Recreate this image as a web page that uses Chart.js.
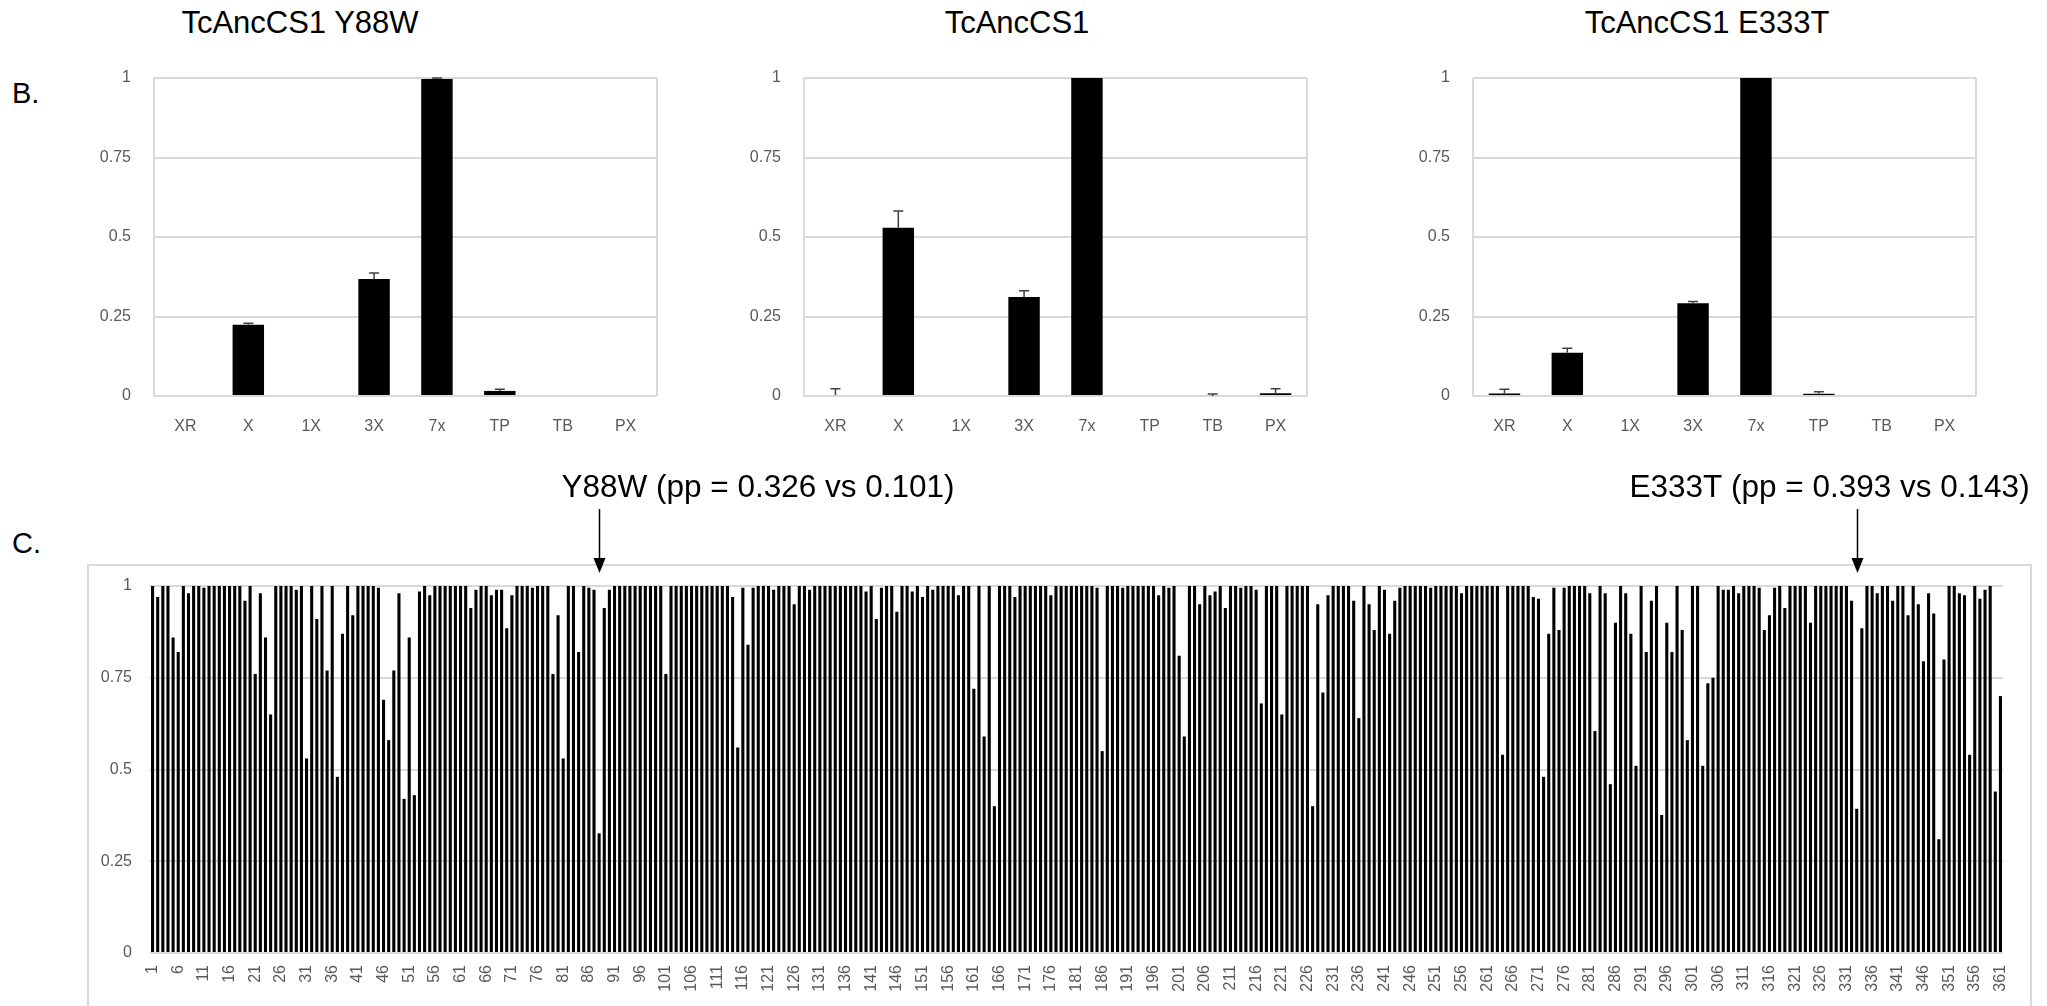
<!DOCTYPE html>
<html>
<head>
<meta charset="utf-8">
<script src="https://cdn.jsdelivr.net/npm/chart.js@4.4.1/dist/chart.umd.min.js"></script>
<style>
  body { margin: 0; width: 2047px; height: 1006px; overflow: hidden; position: relative; background: #fff;
         font-family: "Liberation Sans", Arial, sans-serif; }
  .txt { position: absolute; font-size: 31px; line-height: 31px; color: #000; white-space: nowrap; }
  .title { width: 600px; text-align: center; }
  .box { position: absolute; }
  #frame { position: absolute; left: 87px; top: 564px; width: 1941px; height: 460px; border: 2px solid #d9d9d9; }
</style>
</head>
<body>
<div class="txt title" style="left:0px; top:7px;">TcAncCS1 Y88W</div>
<div class="txt title" style="left:717px; top:7px;">TcAncCS1</div>
<div class="txt title" style="left:1407px; top:7px;">TcAncCS1 E333T</div>
<div class="txt" style="left:12px; top:78px; font-size:29px;">B.</div>
<div class="txt" style="left:12px; top:528px; font-size:29px;">C.</div>

<div class="box" style="left:60px; top:45px;"><canvas id="chartY88W" width="620" height="405"></canvas></div>
<div class="box" style="left:710px; top:45px;"><canvas id="chartAnc" width="620" height="405"></canvas></div>
<div class="box" style="left:1379px; top:45px;"><canvas id="chartE333T" width="620" height="405"></canvas></div>

<div id="frame"></div>
<div class="box" style="left:0px; top:470px;"><canvas id="ppChart" width="2047" height="536"></canvas></div>

<script>
// panel B: normalised activity per substrate
const compounds = ['XR', 'X', '1X', '3X', '7x', 'TP', 'TB', 'PX'];
const y88wValues = [0, 0.224, 0, 0.368, 0.997, 0.016, 0, 0];
const y88wErrors = [0, 0.005, 0, 0.019, 0.003, 0.005, 0, 0];
const ancValues = [0.003, 0.529, 0, 0.311, 1, 0, 0, 0.009];
const ancErrors = [0.02, 0.053, 0, 0.02, 0, 0, 0.006, 0.014];
const e333tValues = [0.008, 0.136, 0, 0.292, 1, 0.007, 0, 0];
const e333tErrors = [0.013, 0.014, 0, 0.005, 0, 0.006, 0, 0];

// panel C: posterior probability per site
const residues = Array.from({ length: 361 }, (_, i) => String(i + 1));
const posteriorProbs = [
  1, 0.97, 1, 1, 0.86, 0.82, 1, 0.98, 1, 1,
  0.995, 1, 1, 1, 1, 1, 1, 1, 0.96, 1,
  0.76, 0.98, 0.86, 0.65, 1, 1, 1, 1, 0.99, 1,
  0.53, 1, 0.91, 1, 0.77, 1, 0.48, 0.87, 1, 0.92,
  1, 1, 1, 1, 0.995, 0.69, 0.58, 0.77, 0.98, 0.42,
  0.86, 0.43, 0.985, 1, 0.975, 1, 1, 1, 1, 1,
  1, 1, 0.94, 0.99, 1, 1, 0.975, 0.99, 0.99, 0.885,
  0.975, 1, 1, 1, 0.995, 1, 1, 1, 0.76, 0.92,
  0.53, 1, 1, 0.82, 1, 0.995, 0.99, 0.326, 0.94, 0.99,
  1, 1, 1, 1, 1, 1, 1, 1, 1, 1,
  0.76, 1, 1, 1, 1, 1, 1, 1, 1, 1,
  1, 1, 1, 0.97, 0.56, 0.995, 0.84, 0.995, 1, 1,
  1, 0.99, 1, 1, 1, 0.95, 1, 1, 0.99, 1,
  1, 1, 1, 1, 1, 1, 1, 1, 1, 0.985,
  1, 0.91, 0.995, 1, 1, 0.93, 1, 1, 0.985, 1,
  0.97, 1, 0.99, 1, 1, 1, 1, 0.975, 1, 1,
  0.72, 1, 0.59, 1, 0.40, 1, 1, 1, 0.97, 1,
  1, 1, 1, 1, 1, 0.975, 1, 1, 1, 1,
  1, 1, 1, 1, 0.995, 0.55, 1, 1, 1, 0.995,
  1, 1, 1, 1, 1, 1, 0.975, 1, 0.995, 1,
  0.81, 0.59, 1, 1, 0.95, 1, 0.975, 0.985, 1, 0.94,
  1, 1, 0.995, 1, 1, 0.99, 0.68, 1, 1, 1,
  0.65, 1, 1, 1, 1, 1, 0.40, 0.95, 0.71, 0.975,
  1, 1, 1, 1, 0.96, 0.64, 1, 0.95, 0.88, 1,
  0.99, 0.87, 0.96, 0.995, 1, 1, 1, 1, 1, 0.995,
  1, 1, 1, 1, 1, 0.98, 1, 1, 1, 1,
  1, 1, 1, 0.54, 1, 1, 1, 1, 1, 0.97,
  0.965, 0.48, 0.87, 0.995, 0.88, 0.995, 1, 1, 1, 1,
  0.98, 0.605, 1, 0.98, 0.46, 0.90, 1, 0.98, 0.87, 0.51,
  1, 0.82, 0.96, 1, 0.376, 0.90, 0.82, 1, 0.88, 0.58,
  1, 1, 0.51, 0.735, 0.75, 1, 0.99, 0.99, 1, 0.98,
  1, 1, 1, 0.995, 0.88, 0.92, 0.995, 1, 0.94, 1,
  1, 1, 1, 0.90, 1, 1, 1, 1, 1, 1,
  1, 0.96, 0.393, 0.885, 1, 1, 0.98, 1, 1, 0.96,
  1, 1, 0.92, 1, 0.95, 0.795, 0.98, 0.925, 0.31, 0.80,
  1, 1, 0.98, 0.975, 0.54, 1, 0.965, 0.99, 1, 0.44,
  0.70
];
const markedSites = [88, 333];
const markedLabels = ['Y88W (pp = 0.326 vs 0.101)', 'E333T (pp = 0.393 vs 0.143)'];
const labelShift = [38, 228];

Chart.defaults.font.family = '"Liberation Sans", Arial, sans-serif';
Chart.defaults.color = '#595959';

const tickText = v => String(Math.round(v * 100) / 100);

// one-sided (plus) error bars
const errorBars = {
  id: 'errorBars',
  afterDatasetsDraw(chart) {
    const ds = chart.data.datasets[0];
    if (!ds.errors) return;
    const ctx = chart.ctx, yScale = chart.scales.y;
    ctx.save();
    ctx.strokeStyle = '#404040';
    ctx.lineWidth = 1.5;
    chart.getDatasetMeta(0).data.forEach((bar, i) => {
      const err = ds.errors[i];
      if (!err) return;
      const top = yScale.getPixelForValue(ds.data[i] + err);
      ctx.beginPath();
      ctx.moveTo(bar.x, bar.y);
      ctx.lineTo(bar.x, top);
      ctx.moveTo(bar.x - 5, top);
      ctx.lineTo(bar.x + 5, top);
      ctx.stroke();
    });
    ctx.restore();
  }
};

const sideLines = {
  id: 'sideLines',
  beforeDatasetsDraw(chart) {
    const { ctx, chartArea: a } = chart;
    ctx.save();
    ctx.strokeStyle = '#d9d9d9';
    ctx.lineWidth = 2;
    ctx.beginPath();
    ctx.moveTo(a.left, a.top); ctx.lineTo(a.left, a.bottom);
    ctx.moveTo(a.right, a.top); ctx.lineTo(a.right, a.bottom);
    ctx.stroke();
    ctx.restore();
  }
};

function makeTopChart(id, values, errors) {
  return new Chart(document.getElementById(id), {
    type: 'bar',
    data: {
      labels: compounds,
      datasets: [{ data: values, errors: errors, backgroundColor: '#000', barPercentage: 0.5, categoryPercentage: 1 }]
    },
    options: {
      responsive: false,
      animation: false,
      devicePixelRatio: 1,
      layout: { padding: { left: 0, right: 23, top: 33, bottom: 0 } },
      plugins: { legend: { display: false }, tooltip: { enabled: false } },
      scales: {
        x: {
          grid: { display: false },
          border: { display: false },
          ticks: { font: { size: 16 }, padding: 13 },
          afterFit: s => { s.height = 54; }
        },
        y: {
          min: 0, max: 1,
          grid: { color: '#d9d9d9', lineWidth: 2, drawTicks: false },
          border: { display: false },
          ticks: { stepSize: 0.25, font: { size: 16 }, padding: 23, callback: tickText },
          afterFit: s => { s.width = 94; }
        }
      }
    },
    plugins: [sideLines, errorBars]
  });
}

makeTopChart('chartY88W', y88wValues, y88wErrors);
makeTopChart('chartAnc', ancValues, ancErrors);
makeTopChart('chartE333T', e333tValues, e333tErrors);

const siteArrows = {
  id: 'siteArrows',
  afterDraw(chart) {
    const ctx = chart.ctx, xScale = chart.scales.x;
    ctx.save();
    ctx.fillStyle = '#000';
    ctx.strokeStyle = '#000';
    ctx.lineWidth = 1.5;
    ctx.font = '31.5px "Liberation Sans", Arial, sans-serif';
    ctx.textAlign = 'left';
    ctx.textBaseline = 'alphabetic';
    markedSites.forEach((site, k) => {
      const px = Math.round(xScale.getPixelForValue(site - 1)) + 0.5;
      ctx.beginPath();
      ctx.moveTo(px, 39);
      ctx.lineTo(px, 90);
      ctx.stroke();
      ctx.beginPath();
      ctx.moveTo(px - 6, 88);
      ctx.lineTo(px + 6, 88);
      ctx.lineTo(px, 103);
      ctx.closePath();
      ctx.fill();
      ctx.fillText(markedLabels[k], px - labelShift[k], 27);
    });
    ctx.restore();
  }
};

new Chart(document.getElementById('ppChart'), {
  type: 'bar',
  data: {
    labels: residues,
    datasets: [{ data: posteriorProbs, backgroundColor: '#000', barPercentage: 0.6, categoryPercentage: 1 }]
  },
  options: {
    responsive: false,
    animation: false,
    devicePixelRatio: 1,
    layout: { padding: { left: 0, right: 44, top: 116, bottom: 0 } },
    plugins: { legend: { display: false }, tooltip: { enabled: false } },
    scales: {
      x: {
        grid: { display: false },
        border: { display: false },
        ticks: {
          autoSkip: false, minRotation: 90, maxRotation: 90, padding: 4,
          font: { size: 16 },
          callback: (v, i) => (i % 5 === 0 ? residues[i] : '')
        },
        afterFit: s => { s.height = 53; }
      },
      y: {
        min: 0, max: 1,
        grid: { color: '#d9d9d9', lineWidth: 2, drawTicks: false },
        border: { display: false },
        ticks: { stepSize: 0.25, font: { size: 16 }, padding: 18, callback: tickText },
        afterFit: s => { s.width = 150; }
      }
    }
  },
  plugins: [siteArrows]
});
</script>
</body>
</html>
